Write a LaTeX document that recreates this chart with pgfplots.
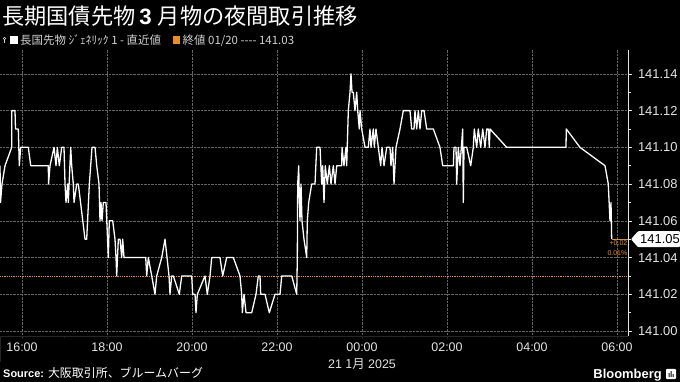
\documentclass[border=0pt]{standalone}
\usepackage{fontspec}
\setmainfont{Liberation Sans}
\newfontfamily\jp{Noto Sans CJK JP}
\usepackage{pgfplots}
\pgfplotsset{compat=1.18}
\definecolor{tickc}{RGB}{228,228,228}
\definecolor{grd}{RGB}{100,100,100}
\definecolor{org}{RGB}{232,142,35}
\definecolor{tan}{RGB}{200,150,70}
\definecolor{leg}{RGB}{210,210,210}
\pgfplotstableread{
x y
-0.518 141.09
-0.506 141.07
-0.471 141.08
-0.400 141.09
-0.242 141.10
-0.240 141.12
-0.165 141.12
-0.153 141.11
-0.087 141.11
-0.064 141.09
-0.031 141.10
0.148 141.10
0.205 141.09
0.619 141.09
0.624 141.08
0.659 141.09
0.753 141.10
0.800 141.09
0.831 141.10
0.878 141.09
0.934 141.10
0.988 141.10
1.012 141.08
1.035 141.07
1.075 141.08
1.089 141.07
1.146 141.10
1.169 141.09
1.207 141.08
1.224 141.07
1.287 141.08
1.325 141.08
1.482 141.05
1.522 141.05
1.584 141.08
1.616 141.09
1.647 141.10
1.718 141.10
1.758 141.09
1.812 141.08
1.835 141.06
1.859 141.07
1.882 141.06
1.913 141.07
1.976 141.07
2.031 141.04
2.054 141.06
2.134 141.06
2.188 141.05
2.212 141.04
2.228 141.03
2.266 141.05
2.306 141.05
2.346 141.04
2.369 141.05
2.400 141.04
2.911 141.04
2.934 141.03
2.972 141.04
3.052 141.03
3.129 141.02
3.169 141.03
3.287 141.04
3.365 141.05
3.459 141.03
3.482 141.02
3.522 141.03
3.560 141.03
3.701 141.02
3.758 141.03
3.993 141.03
4.016 141.02
4.071 141.02
4.094 141.01
4.125 141.02
4.306 141.03
4.360 141.02
4.424 141.03
4.464 141.04
4.659 141.04
4.722 141.03
4.816 141.04
4.972 141.04
5.129 141.03
5.169 141.02
5.184 141.01
5.224 141.02
5.271 141.01
5.405 141.01
5.506 141.02
5.560 141.03
5.600 141.03
5.616 141.02
5.718 141.02
5.819 141.01
5.953 141.02
6.071 141.02
6.111 141.03
6.346 141.03
6.464 141.02
6.478 141.04
6.487 141.08
6.511 141.09
6.518 141.08
6.541 141.06
6.565 141.08
6.588 141.06
6.635 141.05
6.699 141.04
6.713 141.06
6.746 141.07
6.816 141.08
6.894 141.08
6.934 141.10
7.012 141.10
7.052 141.08
7.075 141.09
7.106 141.07
7.136 141.09
7.184 141.08
7.231 141.09
7.271 141.08
7.325 141.09
7.365 141.08
7.405 141.09
7.522 141.09
7.529 141.10
7.576 141.09
7.624 141.10
7.640 141.09
7.678 141.12
7.718 141.13
7.741 141.14
7.765 141.13
7.795 141.13
7.835 141.12
7.875 141.13
7.899 141.12
7.936 141.11
7.953 141.12
7.993 141.11
8.071 141.10
8.148 141.10
8.188 141.11
8.212 141.10
8.266 141.11
8.289 141.10
8.329 141.11
8.384 141.10
8.440 141.09
8.471 141.10
8.518 141.09
8.581 141.10
8.659 141.10
8.682 141.09
8.722 141.10
8.753 141.08
8.800 141.10
8.894 141.11
8.972 141.12
9.129 141.12
9.169 141.11
9.224 141.11
9.247 141.12
9.287 141.11
9.325 141.12
9.365 141.11
9.405 141.12
9.459 141.12
9.522 141.11
9.678 141.11
9.835 141.10
9.899 141.09
10.149 141.09
10.165 141.10
10.212 141.10
10.228 141.08
10.266 141.10
10.306 141.09
10.369 141.11
10.384 141.07
10.400 141.10
10.464 141.10
10.558 141.09
10.619 141.10
10.642 141.11
10.699 141.10
10.736 141.11
10.793 141.10
10.840 141.11
10.894 141.10
10.934 141.11
10.972 141.11
10.995 141.10
11.012 141.11
11.405 141.10
12.800 141.10
12.807 141.11
13.129 141.10
13.718 141.09
13.795 141.08
13.835 141.06
13.859 141.07
13.875 141.05
}\jgb
\begin{document}
\begin{tikzpicture}
\fill[black] (0bp,0bp) rectangle (680bp,382bp);
\begin{axis}[
  at={(0bp,46bp)}, anchor=south west, scale only axis,
  width=628bp, height=286bp,
  xmin=-0.518, xmax=14.259, ymin=140.9973, ymax=141.153,
  axis x line=bottom, axis y line=right,
  x axis line style={draw=grd!140, line width=0.8pt, -},
  y axis line style={draw=tickc, line width=0.8pt, -},
  xtick={0,2,4,6,8,10,12,14},
  xticklabels={16:00,18:00,20:00,22:00,00:00,02:00,04:00,06:00},
  minor xtick={1,3,5,7,9,11,13},
  ytick={141.00,141.02,141.04,141.06,141.08,141.10,141.12,141.14},
  yticklabels={141.00,141.02,141.04,141.06,141.08,141.10,141.12,141.14},
  minor ytick={141.01,141.03,141.05,141.07,141.09,141.11,141.13},
  tick align=outside,
  major tick length=3.5bp, minor tick length=2.5bp,
  x tick style={draw=grd!140, line width=0.6pt},
  y tick style={draw=tickc, line width=0.6pt},
  grid=major,
  major grid style={draw=grd, densely dotted, line width=0.6pt},
  xticklabel style={font=\fontsize{12.5}{14}\selectfont, text=tickc},
  yticklabel style={font=\fontsize{13}{15}\selectfont, text=tickc, xshift=3bp},
  /pgf/number format/assume math mode=true,
]
\addplot[org, densely dotted, line width=0.8pt] coordinates {(-0.518,141.03) (14.259,141.03)};
\addplot[white, line width=1.3pt, line join=round] table[x=x,y=y] {\jgb};
\addplot[tan, line width=0.8pt] coordinates {(13.875,141.05) (14.259,141.05)};
\coordinate (last) at (axis cs:14.259,141.05);
\end{axis}
\begin{scope}[x=1bp,y=1bp]
% last price tag
\fill[white, rounded corners=1pt] ([xshift=3bp]last) -- ++(7,8) -- ++(42,0) -- ++(0,-16) -- ++(-42,0) -- cycle;
\node[black, inner sep=0, font=\fontsize{13}{15}\selectfont] at ([xshift=32bp]last) {141.05};
\node[org, anchor=east, inner sep=0, font=\fontsize{7}{8}\selectfont] at (627.5,139) {+0.02};
\node[org, anchor=east, inner sep=0, font=\fontsize{7}{8}\selectfont] at (627.5,129) {0.01\%};
% title
\node[anchor=base west, inner sep=0, text=white, font=\jp\fontsize{22.3}{26}\selectfont] at (2,358) {長期国債先物\hspace{4bp}{\fontspec{Liberation Sans}\bfseries 3}\hspace{6bp}月物の夜間取引推移};
% legend
\draw[leg, line width=0.6pt] (4.5,343.5) circle (1.3) (4.5,342.2) -- (4.5,339);
\fill[white] (10,338) rectangle (17.5,345.5);
\node[anchor=base west, inner sep=0, text=leg, font=\jp\fontsize{11.5}{13}\selectfont] at (20,338) {長国先物 ｼﾞｪﾈﾘｯｸ 1 - 直近値};
\fill[org] (172.5,338) rectangle (180,345.5);
\node[anchor=base west, inner sep=0, text=leg, font=\jp\fontsize{11.5}{13}\selectfont] at (182.5,338) {終値 01/20 ---- 141.03};
% date
\node[text=tickc, inner sep=0, font=\fontsize{12.5}{14}\selectfont] at (362,18) {21 {\jp 1月} 2025};
\draw[grd!140, line width=0.8pt] (0.4,46) -- (0.4,20);
% source
\node[anchor=base west, inner sep=0, text=white, font=\fontsize{11}{13}\selectfont] at (3,4.5) {\bfseries Source:\hspace{4bp}{\jp\mdseries\fontsize{12}{14}\selectfont 大阪取引所、ブルームバーグ}};
\node[anchor=base east, inner sep=0, text=white, font=\fontsize{13}{15}\selectfont\bfseries] at (662,4) {Bloomberg};
\fill[white, rounded corners=1pt] (666,3) rectangle (676,13);
\fill[black] (668.5,5) rectangle (669.7,9) (670.5,5) rectangle (671.7,11) (672.5,5) rectangle (673.7,8);
\end{scope}
\pgfresetboundingbox
\path (0bp,0bp) rectangle (680bp,382bp);
\end{tikzpicture}
\end{document}
